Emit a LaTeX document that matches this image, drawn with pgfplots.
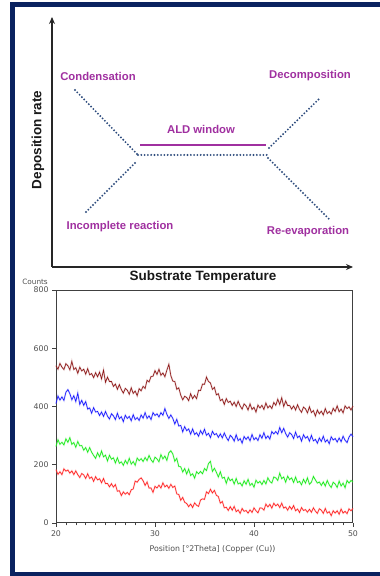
\documentclass[border=0pt]{standalone}
\usepackage{fontspec}
\setmainfont{Liberation Sans}
\newfontfamily\dejavu{DejaVu Sans}
\usepackage{pgfplots}
\pgfplotsset{compat=1.18}
\usepackage{pgfplotstable}
\usetikzlibrary{arrows.meta}
\definecolor{navyframe}{RGB}{10,34,96}
\definecolor{aldpurple}{RGB}{160,48,160}
\definecolor{dotblue}{RGB}{45,75,125}
\definecolor{maroonc}{RGB}{140,20,20}
\definecolor{bluec}{RGB}{20,20,255}
\definecolor{greenc}{RGB}{20,235,20}
\definecolor{redc}{RGB}{255,30,30}
\definecolor{ticktext}{RGB}{80,80,80}

\pgfplotstableread{
x M B G R
20.0 540 410 263 183
20.2 528 436 286 167
20.4 548 422 270 176
20.6 535 433 277 166
20.8 527 421 268 186
21.0 547 449 289 178
21.2 540 458 277 182
21.4 526 444 293 171
21.6 555 423 270 179
21.8 527 437 276 166
22.0 533 417 260 179
22.2 514 446 280 166
22.4 535 407 265 156
22.6 522 421 266 170
22.8 528 404 250 165
23.0 511 417 259 153
23.2 530 391 243 169
23.4 509 395 259 153
23.6 513 377 243 158
23.8 499 396 232 143
24.0 516 381 222 159
24.2 502 383 241 148
24.4 518 369 227 152
24.6 495 381 247 138
24.8 525 366 227 153
25.0 483 383 233 135
25.2 501 367 213 136
25.4 486 357 233 124
25.6 486 375 219 135
25.8 469 368 224 123
26.0 477 355 206 132
26.2 459 377 224 109
26.4 475 358 205 111
26.6 458 365 210 94
26.8 446 348 198 107
27.0 462 370 215 99
27.2 456 359 203 105
27.4 442 366 222 97
27.6 464 351 202 114
27.8 445 372 211 117
28.0 453 355 198 144
28.2 437 362 223 140
28.4 461 352 214 150
28.6 454 371 221 155
28.8 469 360 211 145
29.0 462 379 225 129
29.2 490 359 214 141
29.4 484 368 232 120
29.6 503 355 217 120
29.8 504 379 208 105
30.0 523 369 226 126
30.2 510 375 220 120
30.4 528 364 210 130
30.6 507 379 235 120
30.8 515 370 220 138
31.0 502 393 230 124
31.2 525 373 215 130
31.4 545 359 241 119
31.6 506 371 248 133
31.8 487 359 237 122
32.0 486 340 212 127
32.2 459 356 222 100
32.4 464 333 194 98
32.6 439 335 193 78
32.8 423 313 175 88
33.0 435 331 187 71
33.2 431 317 168 67
33.4 420 323 185 56
33.6 444 305 163 65
33.8 427 323 169 53
34.0 438 304 154 69
34.2 427 310 176 61
34.4 456 298 169 57
34.6 455 317 177 79
34.8 477 305 169 83
35.0 476 322 187 81
35.2 501 301 180 107
35.4 486 308 204 101
35.6 481 293 212 116
35.8 459 315 177 103
36.0 466 303 188 112
36.2 440 307 174 95
36.4 444 294 158 91
36.6 420 306 176 68
36.8 425 292 154 74
37.0 407 309 157 52
37.2 427 294 136 54
37.4 414 283 157 43
37.6 418 301 145 56
37.8 404 294 151 44
38.0 415 281 134 57
38.2 400 303 153 39
38.4 418 283 134 45
38.6 402 290 138 33
38.8 391 274 127 50
39.0 409 297 145 40
39.2 402 287 133 43
39.4 388 296 150 34
39.6 409 282 129 45
39.8 390 304 136 36
40.0 397 286 123 52
40.2 381 293 147 42
40.4 405 283 137 35
40.6 395 303 143 52
40.8 404 291 132 51
41.0 390 310 146 44
41.2 412 290 134 65
41.4 395 299 155 55
41.6 403 288 143 64
41.8 393 314 137 51
42.0 414 306 158 68
42.2 404 314 155 59
42.4 425 305 146 65
42.6 407 328 171 53
42.8 430 310 152 68
43.0 400 325 158 51
43.2 419 307 140 55
43.4 403 295 161 44
43.6 404 310 149 57
43.8 391 304 155 47
44.0 402 290 139 60
44.2 388 312 158 42
44.4 406 293 139 48
44.6 390 299 143 36
44.8 380 281 131 53
45.0 398 303 150 43
45.2 392 291 137 46
45.4 378 297 155 37
45.6 399 281 133 47
45.8 379 301 140 37
46.0 386 282 160 52
46.2 367 287 148 41
46.4 388 274 137 33
46.6 375 292 141 49
46.8 384 280 129 44
47.0 371 298 141 33
47.2 393 278 127 50
47.4 376 286 146 34
47.6 383 272 131 39
47.8 374 296 122 25
48.0 394 285 140 42
48.2 383 290 134 34
48.4 402 278 122 42
48.6 382 292 144 30
48.8 391 279 127 48
49.0 378 298 137 34
49.2 402 284 121 40
49.4 393 276 146 32
49.6 399 295 137 49
49.8 388 305 146 42
50.0 402 296 141 50
}\xrd

\begin{document}
\begin{tikzpicture}[x=1pt,y=1pt]
\useasboundingbox (0,0) rectangle (380,576);
\fill[white] (0,0) rectangle (380,576);
\fill[navyframe] (10,0) rectangle (15,574);
\fill[navyframe] (10,569) rectangle (380,574);
\fill[navyframe] (10,0) rectangle (380,4);

% ---------- ALD schematic ----------
\begin{axis}[at={(52pt,309pt)}, anchor=south west, scale only axis,
  width=301pt, height=250pt,
  xmin=52, xmax=353, ymin=309, ymax=559,
  axis lines=left, xtick=\empty, ytick=\empty,
  axis line style={line width=1.3pt, color=black!85, -{Stealth[length=7pt,width=6pt]}},
  clip=false]
\pgfplotsset{dotstyle/.style={dotblue, line width=2.1pt, dash pattern=on 0pt off 3.3pt, line cap=round}}
\addplot[dotstyle] coordinates {(75,486) (138,421)};
\addplot[dotstyle] coordinates {(86,364) (136,414)};
\addplot[dotstyle] coordinates {(138,421) (267,421)};
\addplot[dotstyle] coordinates {(269,428) (320,478)};
\addplot[dotstyle] coordinates {(268,418) (330,356)};
\addplot[aldpurple, line width=2pt] coordinates {(140,431) (266,431)};
\end{axis}
\begin{scope}[every node/.style={font=\fontsize{11.3}{13}\selectfont\bfseries, text=aldpurple, inner sep=0pt}]
\node at (98,500) {Condensation};
\node at (310,500) {Decomposition};
\node at (201,447) {ALD window};
\node at (120,349) {Incomplete reaction};
\node at (308,344) {Re-evaporation};
\end{scope}
\node[font=\fontsize{13.5}{16}\selectfont\bfseries, text=black!90, rotate=90, inner sep=0pt] at (38,436) {Deposition rate};
\node[font=\fontsize{13.5}{16}\selectfont\bfseries, text=black!90, inner sep=0pt] at (203,299) {Substrate Temperature};

% ---------- XRD pattern ----------
\begin{axis}[at={(56pt,53pt)}, anchor=south west, scale only axis,
  width=297pt, height=233pt,
  xmin=20, xmax=50, ymin=0, ymax=800,
  xtick={20,30,40,50}, ytick={0,200,400,600,800},
  minor x tick num=9,
  tick align=outside, xtick pos=bottom, ytick pos=left,
  major tick length=4pt, minor tick length=2.5pt,
  axis line style={line width=1pt, black!75},
  every tick/.style={black!75, line width=0.6pt},
  ticklabel style={font=\dejavu\fontsize{7.8}{9}\selectfont, text=ticktext},
  /pgf/number format/assume math mode=true,
  xlabel={Position [°2Theta] (Copper (Cu))},
  xlabel style={font=\dejavu\fontsize{7.8}{9}\selectfont, text=ticktext,
    at={(axis description cs:0.5,0)}, anchor=center, yshift=-26pt, xshift=8pt},
  clip=false]
\addplot[maroonc!60, line width=1.6pt, opacity=0.35] table[x=x,y=M]{\xrd};
\addplot[maroonc, line width=0.6pt] table[x=x,y=M]{\xrd};
\addplot[bluec!60, line width=1.6pt, opacity=0.35] table[x=x,y=B]{\xrd};
\addplot[bluec, line width=0.6pt] table[x=x,y=B]{\xrd};
\addplot[greenc!60, line width=1.6pt, opacity=0.35] table[x=x,y=G]{\xrd};
\addplot[greenc, line width=0.6pt] table[x=x,y=G]{\xrd};
\addplot[redc!60, line width=1.6pt, opacity=0.35] table[x=x,y=R]{\xrd};
\addplot[redc, line width=0.6pt] table[x=x,y=R]{\xrd};
\node[font=\dejavu\fontsize{7.3}{8}\selectfont, text=ticktext, anchor=base east, inner sep=0pt]
  at ([xshift=-8pt,yshift=5.5pt]rel axis cs:0,1) {Counts};
\end{axis}
\end{tikzpicture}
\end{document}
